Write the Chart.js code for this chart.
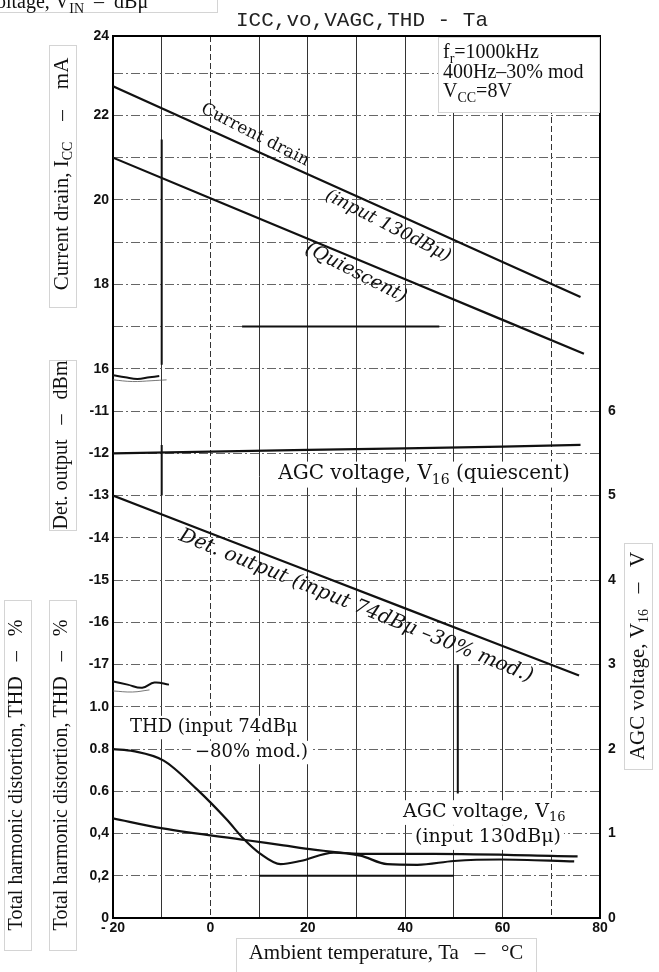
<!DOCTYPE html>
<html>
<head>
<meta charset="utf-8">
<script src="https://cdn.jsdelivr.net/npm/chart.js@4.4.0/dist/chart.umd.min.js"></script>
<style>
  html, body { margin: 0; padding: 0; background: #fff; }
  #wrap { width: 659px; height: 972px; }
</style>
</head>
<body>
<div id="wrap"><canvas id="chart" width="659" height="972"></canvas></div>
<script>
// values
const tempTicks = [-20, -10, 0, 10, 20, 30, 40, 50, 60, 70, 80];
const tempTickLabels = ['- 20', '', '0', '', '20', '', '40', '', '60', '', '80'];
const iccTicks = [16, 18, 20, 22, 24];
const detTicks = [-17, -16, -15, -14, -13, -12, -11];
const thdTickLabels = ['0', '0,2', '0,4', '0.6', '0.8', '1.0'];
const agcTicks = [0, 1, 2, 3, 4, 5, 6];

// current drain, input 130dBu  (mA)
const drainTemps = [-20, 0, 20, 40, 60, 76];
const drainInput130 = [22.69, 21.65, 20.61, 19.57, 18.53, 17.70];
// current drain, quiescent (mA)
const quietTemps = [-20, 0, 20, 40, 60, 76.7];
const drainQuiescent = [21.0, 20.04, 19.08, 18.12, 17.16, 16.36];
// AGC voltage V16, quiescent (V)
const agcQTemps = [-20, 0, 20, 40, 60, 76];
const agcQuiescent = [5.50, 5.52, 5.54, 5.56, 5.58, 5.60];
// det. output, input 74dBu 30% mod (dBm)
const detTemps = [-20, 0, 20, 40, 60, 75.7];
const detOutput = [-13.0, -13.89, -14.78, -15.67, -16.56, -17.26];
// THD, input 74dBu 80% mod (%)
const thdTemps = [-20, -15.8, -9.6, -2.8, 3.4, 6.8, 10.2, 14.4, 18.5, 25.3, 30.8, 36.3, 42.5, 50, 59.6, 74.7];
const thdValues = [0.80, 0.79, 0.745, 0.61, 0.465, 0.375, 0.305, 0.255, 0.27, 0.31, 0.295, 0.255, 0.252, 0.27, 0.277, 0.268];
// AGC voltage V16, input 130dBu (V)
const agc130Temps = [-20, -9.8, 7.5, 15, 21.2, 30.8, 45.8, 75.4];
const agc130 = [1.18, 1.06, 0.92, 0.86, 0.81, 0.76, 0.76, 0.73];

// stray strokes of the scan (other graphs showing through)
const strayA = { t: [-10, -10], v: [21.43, 16.1] };        // mA
const strayB = { t: [-10, -10], v: [-11.8, -13.0] };       // dBm
const strayC = { t: [6.5, 47], v: [17, 17] };              // mA
const strayD = { t: [10, 50], v: [0.2, 0.2] };             // %
const strayE = { t: [50.8, 50.8], v: [1.2, 0.59] };        // %
const wavyTop = { t: [-20, -17.5, -15, -12.5, -10.5], v: [15.85, 15.8, 15.76, 15.8, 15.83] };
const wavyTop2 = { t: [-20, -16, -12, -9], v: [15.74, 15.7, 15.72, 15.74] };
const wavyMid = { t: [-20, -17, -14, -11.5, -8.5], v: [1.12, 1.105, 1.09, 1.115, 1.105] };
const wavyMid2 = { t: [-20, -16, -12.5], v: [1.075, 1.07, 1.08] };

// all quantities share one grid of rows; the top row of the sheet is cut short
const rowTop = 20.88;
const iccBase = 3, detBase = -23, thdPerRow = 0.2, agcPerRow = 0.5;

function pts(ts, vs) {
    return ts.map((t, i) => ({ x: t, y: vs[i] }));
}

function line(data, axis, extra) {
    return Object.assign({
        data: data,
        yAxisID: axis,
        borderColor: '#111',
        borderWidth: 2.2,
        pointRadius: 0,
        fill: false,
        tension: 0
    }, extra || {});
}

const serif = "'Liberation Serif', 'Times New Roman', serif";
const dserif = "'DejaVu Serif', serif";

// text pieces: strings, or {sub: '..'} for subscripts
const boxes = [
    { x: -2, y: -2, w: 219, h: 14 },
    { x: 438, y: 37, w: 161, h: 75 },
    { x: 49, y: 45, w: 27, h: 262 },
    { x: 49, y: 360, w: 27, h: 170 },
    { x: 49, y: 600, w: 27, h: 350 },
    { x: 4, y: 600, w: 27, h: 350 },
    { x: 624, y: 543, w: 28, h: 226 },
    { x: 236, y: 938, w: 300, h: 40 }
];

const texts = [
    { parts: ['oltage, V', { sub: 'IN' }, '  \u2013  dB\u03bc'], x: -4, y: 3, size: 20, family: serif, align: 'left' },
    { parts: ['ICC,vo,VAGC,THD - Ta'], x: 362, y: 20, size: 21, family: "'Liberation Mono', monospace", color: '#222' },
    { parts: ['f', { sub: 'r' }, '=1000kHz'], x: 443, y: 53, size: 20, family: serif, align: 'left' },
    { parts: ['400Hz\u201330% mod'], x: 443, y: 73, size: 20, family: serif, align: 'left' },
    { parts: ['V', { sub: 'CC' }, '=8V'], x: 443, y: 92, size: 20, family: serif, align: 'left' },
    { parts: ['Current drain, I', { sub: 'CC' }, '    \u2013    mA'], x: 62, y: 174, size: 21, family: serif, angle: -90 },
    { parts: ['Det. output   \u2013   dBm'], x: 62, y: 445, size: 20, family: serif, angle: -90 },
    { parts: ['Total harmonic distortion, THD   \u2013   %'], x: 62, y: 775, size: 20, family: serif, angle: -90 },
    { parts: ['Total harmonic distortion, THD   \u2013   %'], x: 17, y: 775, size: 20, family: serif, angle: -90 },
    { parts: ['AGC voltage, V', { sub: '16' }, '   \u2013   V'], x: 638, y: 656, size: 21, family: serif, angle: -90 },
    { parts: ['Ambient temperature, Ta   \u2013   \u00b0C'], x: 386, y: 953, size: 21, family: serif }
];

const plotTexts = [
    { parts: ['Current drain'], x: 255, y: 135, size: 17, family: dserif, angle: 27 },
    { parts: ['(input 130dB\u03bc)'], x: 388, y: 226, size: 18, family: dserif, style: 'italic', angle: 27 },
    { parts: ['(Quiescent)'], x: 356, y: 273, size: 19, family: dserif, style: 'italic', angle: 27 },
    { parts: ['AGC voltage, V', { sub: '16' }, ' (quiescent)'], x: 424, y: 474, size: 20, family: dserif, bg: true },
    { parts: ['Det. output (input 74dB\u03bc \u201330% mod.)'], x: 356, y: 606, size: 20, family: dserif, style: 'italic', angle: 22 },
    { parts: ['THD (input 74dB\u03bc'], x: 130, y: 727, size: 18, family: dserif, align: 'left', bg: true },
    { parts: ['\u221280% mod.)'], x: 195, y: 752, size: 18, family: dserif, align: 'left', bg: true },
    { parts: ['AGC voltage, V', { sub: '16' }], x: 403, y: 812, size: 19, family: dserif, align: 'left', bg: true },
    { parts: ['(input 130dB\u03bc)'], x: 415, y: 837, size: 19, family: dserif, align: 'left', bg: true }
];

function fontOf(t, sub) {
    const size = sub ? Math.round(t.size * 0.68) : t.size;
    return (t.style || 'normal') + ' ' + size + 'px ' + t.family;
}

function widthOf(ctx, t) {
    let w = 0;
    t.parts.forEach(p => {
        const sub = typeof p !== 'string';
        ctx.font = fontOf(t, sub);
        w += ctx.measureText(sub ? p.sub : p).width;
    });
    return w;
}

function drawText(ctx, t, phase) {
    ctx.save();
    ctx.translate(t.x, t.y);
    if (t.angle) ctx.rotate(t.angle * Math.PI / 180);
    const w = widthOf(ctx, t);
    const x0 = t.align === 'left' ? 0 : -w / 2;
    if (phase === 'bg') {
        ctx.fillStyle = '#fff';
        ctx.fillRect(x0 - 3, -t.size * 0.62, w + 6, t.size * 1.3);
    } else {
        ctx.textBaseline = 'middle';
        ctx.fillStyle = t.color || '#111';
        let x = x0;
        t.parts.forEach(p => {
            const sub = typeof p !== 'string';
            ctx.font = fontOf(t, sub);
            const s = sub ? p.sub : p;
            ctx.fillText(s, x, sub ? t.size * 0.32 : 0);
            x += ctx.measureText(s).width;
        });
    }
    ctx.restore();
}

const sheetText = {
    id: 'sheetText',
    beforeDatasetsDraw(chart) {
        const ctx = chart.ctx;
        plotTexts.filter(t => t.bg).forEach(t => drawText(ctx, t, 'bg'));
    },
    afterDraw(chart) {
        const ctx = chart.ctx;
        boxes.forEach(b => {
            ctx.save();
            ctx.fillStyle = '#fff';
            ctx.fillRect(b.x, b.y, b.w, b.h);
            ctx.strokeStyle = '#d4d4d4';
            ctx.lineWidth = 1;
            ctx.strokeRect(b.x + 0.5, b.y + 0.5, b.w, b.h);
            ctx.restore();
        });
        texts.forEach(t => drawText(ctx, t, 'fg'));
        plotTexts.forEach(t => drawText(ctx, t, 'fg'));
    }
};

function rowLabel(r) {
    if (r > 20) return String(iccTicks[iccTicks.length - 1]);
    if (r <= 5) return thdTickLabels[r] || '';
    if (r <= 12) {
        const d = detBase + r;
        return detTicks.includes(d) ? String(d) : '';
    }
    const i = iccBase + r;
    return iccTicks.includes(i) ? String(i) : '';
}

const tickFont = { family: "'Liberation Sans', Arial, sans-serif", size: 14, weight: 'bold' };

const ctx = document.getElementById('chart').getContext('2d');
const chart = new Chart(ctx, {
    type: 'line',
    data: {
        datasets: [
            line(pts(drainTemps, drainInput130), 'yI'),
            line(pts(quietTemps, drainQuiescent), 'yI'),
            line(pts(agcQTemps, agcQuiescent), 'yA'),
            line(pts(detTemps, detOutput), 'yD'),
            line(pts(thdTemps, thdValues), 'yT', { cubicInterpolationMode: 'monotone' }),
            line(pts(agc130Temps, agc130), 'yA', { cubicInterpolationMode: 'monotone' }),
            line(pts(strayA.t, strayA.v), 'yI', { borderWidth: 2 }),
            line(pts(strayB.t, strayB.v), 'yD', { borderWidth: 2 }),
            line(pts(strayC.t, strayC.v), 'yI', { borderWidth: 2 }),
            line(pts(strayD.t, strayD.v), 'yT', { borderWidth: 2 }),
            line(pts(strayE.t, strayE.v), 'yT', { borderWidth: 2 }),
            line(pts(wavyTop.t, wavyTop.v), 'yI', { borderWidth: 2, tension: 0.4 }),
            line(pts(wavyTop2.t, wavyTop2.v), 'yI', { borderWidth: 0.8, borderColor: '#555', tension: 0.4 }),
            line(pts(wavyMid.t, wavyMid.v), 'yT', { borderWidth: 2, tension: 0.4 }),
            line(pts(wavyMid2.t, wavyMid2.v), 'yT', { borderWidth: 0.8, borderColor: '#555', tension: 0.4 })
        ]
    },
    options: {
        responsive: false,
        animation: false,
        devicePixelRatio: 1,
        layout: { padding: { top: 36, left: 0, right: 0, bottom: 0 } },
        plugins: {
            legend: { display: false },
            tooltip: { enabled: false },
            title: { display: false }
        },
        scales: {
            x: {
                type: 'linear',
                min: -20,
                max: 80,
                afterBuildTicks: s => { s.ticks = tempTicks.map(v => ({ value: v })); },
                afterFit: s => { s.height = 54; },
                ticks: {
                    autoSkip: false,
                    maxRotation: 0,
                    padding: 2,
                    color: '#111',
                    font: tickFont,
                    callback: v => tempTickLabels[tempTicks.indexOf(v)] || ''
                },
                grid: { color: '#333', lineWidth: 1, drawTicks: false },
                border: {
                    display: true, color: '#000', width: 2,
                    dash: c => (c.tick && (c.tick.value === 0 || c.tick.value === 70)) ? [6, 3] : []
                }
            },
            xTop: {
                type: 'linear',
                position: 'top',
                min: -20,
                max: 80,
                afterFit: s => { s.height = 0; },
                ticks: { display: false },
                grid: { display: false, drawTicks: false },
                border: { display: true, color: '#000', width: 2 }
            },
            y: {
                position: 'left',
                min: 0,
                max: rowTop,
                afterBuildTicks: s => {
                    const t = [];
                    for (let r = 0; r <= 20; r++) t.push({ value: r });
                    t.push({ value: rowTop });
                    s.ticks = t;
                },
                afterFit: s => { s.width = 113; },
                ticks: {
                    autoSkip: false,
                    padding: 4,
                    color: '#111',
                    font: tickFont,
                    callback: v => rowLabel(v)
                },
                grid: { color: '#555', lineWidth: 0.9, drawTicks: false },
                border: { display: true, color: '#000', width: 2, dash: c => c.tick ? [9, 3, 2, 3] : [] }
            },
            yA: {
                position: 'right',
                min: 0,
                max: rowTop * agcPerRow,
                afterBuildTicks: s => { s.ticks = agcTicks.map(v => ({ value: v })); },
                afterFit: s => { s.width = 59; },
                ticks: {
                    autoSkip: false,
                    padding: 8,
                    color: '#111',
                    font: tickFont,
                    callback: v => String(v)
                },
                grid: { display: false, drawTicks: false },
                border: { display: true, color: '#000', width: 2 }
            },
            yI: { display: false, min: iccBase, max: iccBase + rowTop },
            yD: { display: false, min: detBase, max: detBase + rowTop },
            yT: { display: false, min: 0, max: rowTop * thdPerRow }
        }
    },
    plugins: [sheetText]
});
</script>
</body>
</html>
